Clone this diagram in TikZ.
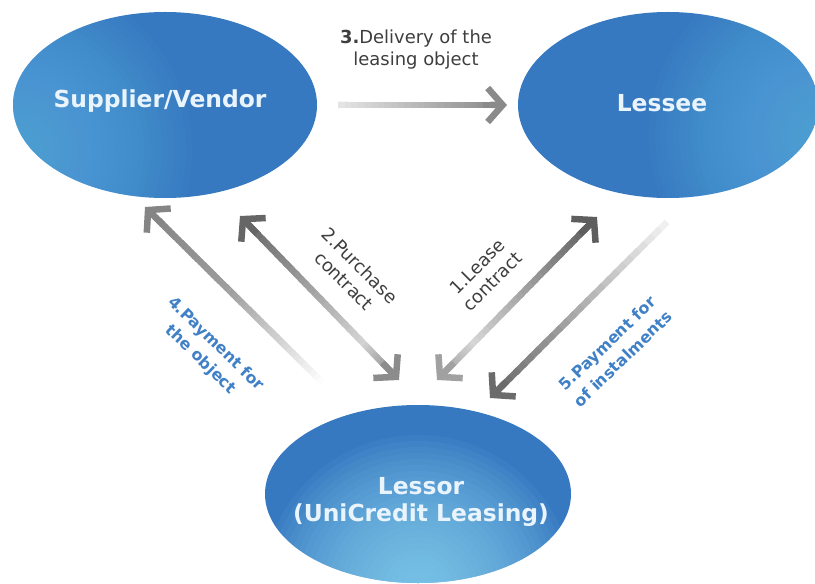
\documentclass[tikz,border=0pt]{standalone}
\usepackage{fontspec}
\setmainfont{DejaVu Sans}
\usetikzlibrary{calc,arrows.meta,shapes.geometric}

\definecolor{bBase}{HTML}{3779C0}
\definecolor{bGlow}{HTML}{62B8E8}
\definecolor{bGlowLow}{HTML}{90DAF6}
\definecolor{bText}{HTML}{EAF4FC}
\definecolor{lGrey}{HTML}{3E3E3E}
\definecolor{lBlue}{HTML}{3F80C6}

% a soft light patch built from stacked translucent discs:
% centre #1, largest radius #2, colour #3, opacity of each disc #4
\newcommand\softpatch[4]{%
  \foreach \gr in {6,12,...,#2}{%
    \fill[#3, fill opacity=#4] #1 circle (\gr bp);
  }}

% a thick stroke whose colour runs from #3 to #4 between the fractions #5 and #6 of the line #1--#2
\newcommand\gradstroke[6]{%
  \colorlet{gcFrom}{#3}\colorlet{gcTo}{#4}%
  \foreach \gi in {1,...,24}{%
    \pgfmathsetmacro\gfa{#5+(#6-#5)*(\gi-1)/24}%
    \pgfmathsetmacro\gfb{min(#6,#5+(#6-#5)*(\gi+0.4)/24)}%
    \pgfmathtruncatemacro\gmix{round(100-(\gi-0.5)*100/24)}%
    \draw[shaft, draw=gcFrom!\gmix!gcTo] ($(#1)!\gfa!(#2)$) -- ($(#1)!\gfb!(#2)$);
  }}

\tikzset{
  shaft/.style={line width=6.5bp, line cap=butt},
  tipline/.style={line width=6.5bp, -{Straight Barb[length=15bp,width=34bp]}},
  bubble/.style={ellipse, inner sep=0pt, draw=none, fill=bBase},
  bubbletext/.style={text=bText, font=\bfseries\fontsize{23.5}{28}\selectfont, align=center},
  steplabel/.style={text=lGrey, font=\fontsize{18}{22}\selectfont, align=center, inner sep=0pt},
  paylabel/.style={text=lBlue, font=\bfseries\fontsize{16}{22}\selectfont, align=center, inner sep=0pt},
}

\begin{document}
\begin{tikzpicture}[x=1bp, y=1bp]
\useasboundingbox (0,0) rectangle (815,-584);

% the three parties, each with a soft light patch
\node[bubble, minimum width=304bp, minimum height=186bp,
      path picture={\softpatch{($(path picture bounding box.west)+(5bp,-45bp)$)}{174}{bGlow}{0.045}}]
      (sup) at (165,-105) {};
\node[bubble, minimum width=300bp, minimum height=186bp,
      path picture={\softpatch{($(path picture bounding box.east)+(5bp,-30bp)$)}{174}{bGlow}{0.045}}]
      (lsee) at (668,-105) {};
\node[bubble, minimum width=306bp, minimum height=178bp,
      path picture={\softpatch{($(path picture bounding box.south)+(0bp,-8bp)$)}{156}{bGlowLow}{0.06}}]
      (lsor) at (418,-494) {};

\node[bubbletext] (supT)  at ($(sup)+(-5,4)$)  {Supplier/Vendor};
\node[bubbletext] (lseeT) at ($(lsee)+(-6,2)$) {Lessee};
\node[bubbletext] (lsorT) at ($(lsor)+(3,-8)$) {Lessor\\(UniCredit Leasing)};

% end points of the connectors
\coordinate (d3a) at (338,-105);  \coordinate (d3b) at (507,-105);
\coordinate (p4a) at (145,-207);  \coordinate (p4b) at (323,-383);
\coordinate (c2a) at (240,-216);  \coordinate (c2b) at (399,-380);
\coordinate (c1a) at (597,-217);  \coordinate (c1b) at (437,-380);
\coordinate (p5a) at (667,-222);  \coordinate (p5b) at (490,-398);

% 3. delivery
\coordinate (d3e) at ($(d3b)!10bp!(d3a)$);
\gradstroke{d3a}{d3e}{white!90!black}{black!46}{0}{1}
\draw[tipline, black!46] ($(d3b)!24bp!(d3a)$) -- (d3b);

% 4. payment for the object
\coordinate (p4s) at ($(p4a)!10bp!(p4b)$);
\gradstroke{p4s}{p4b}{black!48}{black!38}{0}{0.45}
\gradstroke{p4s}{p4b}{black!38}{white}{0.45}{1}
\draw[tipline, black!48] ($(p4a)!24bp!(p4b)$) -- (p4a);

% 2. purchase contract
\coordinate (c2s) at ($(c2a)!10bp!(c2b)$);
\coordinate (c2e) at ($(c2b)!10bp!(c2a)$);
\gradstroke{c2s}{c2e}{black!60}{black!17}{0}{0.8}
\gradstroke{c2s}{c2e}{black!17}{black!45}{0.8}{1}
\draw[tipline, black!60] ($(c2a)!24bp!(c2b)$) -- (c2a);
\draw[tipline, black!45] ($(c2b)!24bp!(c2a)$) -- (c2b);

% 1. lease contract
\coordinate (c1s) at ($(c1a)!10bp!(c1b)$);
\coordinate (c1e) at ($(c1b)!10bp!(c1a)$);
\gradstroke{c1s}{c1e}{black!63}{black!16}{0}{0.8}
\gradstroke{c1s}{c1e}{black!16}{black!37}{0.8}{1}
\draw[tipline, black!63] ($(c1a)!24bp!(c1b)$) -- (c1a);
\draw[tipline, black!37] ($(c1b)!24bp!(c1a)$) -- (c1b);

% 5. payment of instalments
\coordinate (p5e) at ($(p5b)!10bp!(p5a)$);
\gradstroke{p5a}{p5e}{white!95!black}{black!58}{0}{1}
\draw[tipline, black!58] ($(p5b)!24bp!(p5a)$) -- (p5b);

% labels
\node[steplabel] (l3) at (416,-50) {\textbf{3.}Delivery of the\\leasing object};
\node[steplabel, rotate=-45] (l2) at (352,-273) {2.Purchase\\contract};
\node[steplabel, rotate=45]  (l1) at (485,-274) {1.Lease\\contract};
\node[paylabel, rotate=-44]  (l4) at (208,-352) {4.Payment for\\the object};
\node[paylabel, rotate=44]   (l5) at (615,-351) {5.Payment for\\of instalments};
\end{tikzpicture}
\end{document}
